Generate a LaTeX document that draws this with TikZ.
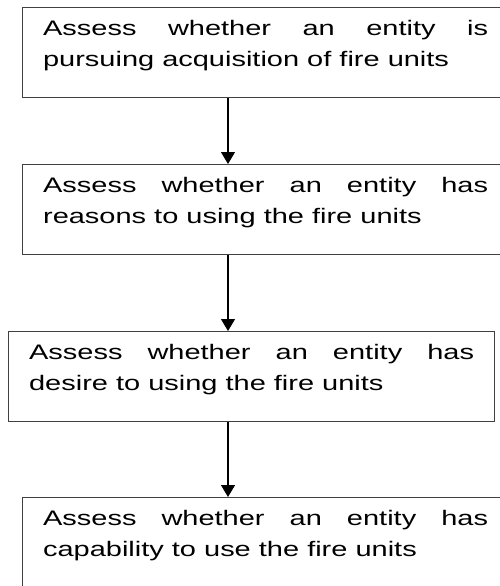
\documentclass[tikz,border=0pt]{standalone}
\usepackage{fontspec}
\newfontfamily\boxfont[FakeStretch=1.38]{Liberation Sans}
\usepackage{tikz}
\usetikzlibrary{arrows.meta}
\setlength{\parindent}{0pt}
\tolerance=10000
\hbadness=10000
\hyphenpenalty=10000
\exhyphenpenalty=10000

\begin{document}
\begin{tikzpicture}[x=1pt, y=1pt,
    assess/.style={draw=black!75, line width=1.2pt, anchor=north west,
      minimum width=486pt, minimum height=90pt, text width=445pt,
      text height=28pt, text depth=62pt,
      inner xsep=20.5pt, inner ysep=0pt, align=justify,
      font=\boxfont\fontsize{21}{31}\selectfont},
    flow/.style={-{Triangle[width=14pt, length=12pt]}, line width=1.1pt}]
      \useasboundingbox (0,0) rectangle (499,-586);

      \node[assess]  (P)  at (22,   -7)  {Assess whether an entity is pursuing acquisition of fire units};
      \node[assess]  (R)  at (22, -164)  {Assess whether an entity has reasons to using the fire units};
      \node[assess]  (D)  at ( 8, -331)  {Assess whether an entity has desire to using the fire units};
      \node[assess]  (C)  at (22, -497)  {Assess whether an entity has capability to use the fire units};

      \coordinate (X) at (228, 0);

      \draw[flow] (P.south -| X) -- (R.north -| X);
      \draw[flow] (R.south -| X) -- (D.north -| X);
      \draw[flow] (D.south -| X) -- (C.north -| X);
    \end{tikzpicture}
\end{document}
